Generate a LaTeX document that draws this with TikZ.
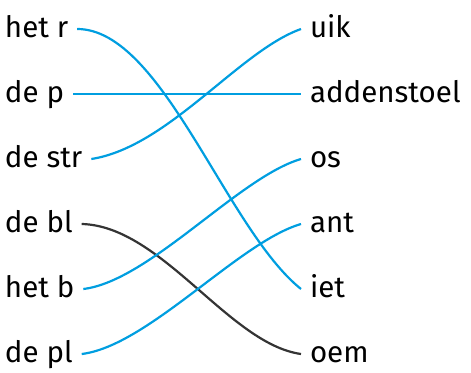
\documentclass[tikz,border=0pt]{standalone}
\usepackage{fontspec}
\setmainfont{Fira Sans}
\usepackage{xcolor}
\definecolor{wire}{RGB}{0,158,224}
\definecolor{pen}{RGB}{30,30,30}

\begin{document}
\begin{tikzpicture}[x=1pt,y=-1pt,
    word/.style={inner sep=0pt, outer xsep=9pt, anchor=west,
      text height=21pt, text depth=5pt, font=\fontsize{29.5}{32}\selectfont},
    link/.style={wire, line width=2.2pt},
    pencil/.style={pen, line width=2.2pt, opacity=0.9}]
    \useasboundingbox (0,0) rectangle (471,372);
    % left column
    \foreach \t [count=\i] in {het r,de p,de str,de bl,het b,de pl} {
        \node[word] (l\i) at (-4,{29+65*(\i-1)}) {\t};
    }
    % right column
    \foreach \t [count=\i] in {uik,addenstoel,os,ant,iet,oem} {
        \node[word] (r\i) at (301,{29+65*(\i-1)}) {\t};
    }
    \draw[pencil] (l4.east) .. controls +(80,2) and +(-72,-10) .. (r6.west);
    \draw[link] (l1.east) .. controls +(85,0) and +(-75,-60) .. (r5.west);
    \draw[link] (l2.east) -- (r2.west);
    \draw[link] (l3.east) .. controls +(77,-12) and +(-62,22) .. (r1.west);
    \draw[link] (l5.east) .. controls +(66,-8) and +(-62,18) .. (r3.west);
    \draw[link] (l6.east) .. controls +(66,-8) and +(-62,18) .. (r4.west);
\end{tikzpicture}
\end{document}
